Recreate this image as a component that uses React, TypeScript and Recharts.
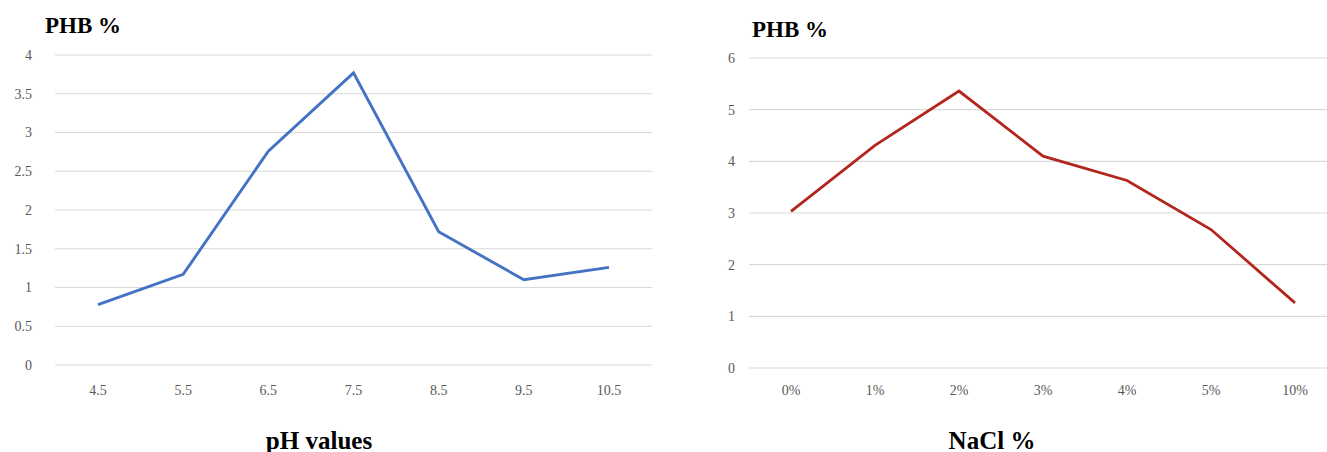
import React from "react";
import { LineChart, Line, XAxis, YAxis, CartesianGrid } from "recharts";

const phCategories = ["4.5", "5.5", "6.5", "7.5", "8.5", "9.5", "10.5"];
const phbByPh = [0.78, 1.17, 2.76, 3.77, 1.72, 1.1, 1.26];
const phTicks = [0, 0.5, 1, 1.5, 2, 2.5, 3, 3.5, 4];

const naclCategories = ["0%", "1%", "2%", "3%", "4%", "5%", "10%"];
const phbByNacl = [3.03, 4.31, 5.36, 4.1, 3.63, 2.68, 1.26];
const naclTicks = [0, 1, 2, 3, 4, 5, 6];

const phData = phCategories.map((c, i) => ({ cat: c, v: phbByPh[i] }));
const naclData = naclCategories.map((c, i) => ({ cat: c, v: phbByNacl[i] }));

const FONT = "'Liberation Serif', 'Times New Roman', serif";
const tickStyle = { fontFamily: FONT, fontSize: 14, fill: "#595959" };

export default function App() {
  return (
    <div
      style={{
        position: "absolute",
        left: 0,
        top: 0,
        width: 1327,
        height: 452,
        overflow: "hidden",
        background: "#ffffff",
      }}
    >
      <div style={{ position: "absolute", left: 0, top: 0 }}>
        <LineChart
          width={660}
          height={452}
          data={phData}
          margin={{ top: 55, right: 8, bottom: 57, left: 0 }}
        >
          <CartesianGrid vertical={false} stroke="#d9d9d9" strokeWidth={1.2} />
          <XAxis
            dataKey="cat"
            axisLine={false}
            tickLine={false}
            tickSize={0}
            tickMargin={20}
            tick={tickStyle}
            interval={0}
            padding={{ left: 43, right: 43 }}
          />
          <YAxis
            width={55}
            domain={[0, 4]}
            ticks={phTicks}
            axisLine={false}
            tickLine={false}
            tickSize={0}
            tickMargin={23}
            tick={tickStyle}
            interval={0}
          />
          <Line
            type="linear"
            dataKey="v"
            stroke="#4472C4"
            strokeWidth={2.9}
            dot={false}
            isAnimationActive={false}
          />
        </LineChart>
      </div>
      <div style={{ position: "absolute", left: 660, top: 0 }}>
        <LineChart
          width={677}
          height={452}
          data={naclData}
          margin={{ top: 58, right: 0, bottom: 54, left: 0 }}
        >
          <CartesianGrid vertical={false} stroke="#d9d9d9" strokeWidth={1.2} />
          <XAxis
            dataKey="cat"
            axisLine={false}
            tickLine={false}
            tickSize={0}
            tickMargin={17}
            tick={tickStyle}
            interval={0}
            padding={{ left: 42, right: 42 }}
          />
          <YAxis
            width={89}
            domain={[0, 6]}
            ticks={naclTicks}
            axisLine={false}
            tickLine={false}
            tickSize={0}
            tickMargin={14}
            tick={tickStyle}
            interval={0}
          />
          <Line
            type="linear"
            dataKey="v"
            stroke="#B3261E"
            strokeWidth={2.8}
            dot={false}
            isAnimationActive={false}
          />
        </LineChart>
      </div>
      <svg
        width={1327}
        height={452}
        style={{ position: "absolute", left: 0, top: 0, pointerEvents: "none" }}
      >
        <text x={45} y={33} fontFamily={FONT} fontWeight="bold" fontSize={23} fill="#000">
          PHB %
        </text>
        <text x={752} y={37} fontFamily={FONT} fontWeight="bold" fontSize={23} fill="#000">
          PHB %
        </text>
        <text x={319} y={449} textAnchor="middle" fontFamily={FONT} fontWeight="bold" fontSize={25} fill="#000">
          pH values
        </text>
        <text x={992} y={449} textAnchor="middle" fontFamily={FONT} fontWeight="bold" fontSize={25} fill="#000">
          NaCl %
        </text>
      </svg>
    </div>
  );
}
